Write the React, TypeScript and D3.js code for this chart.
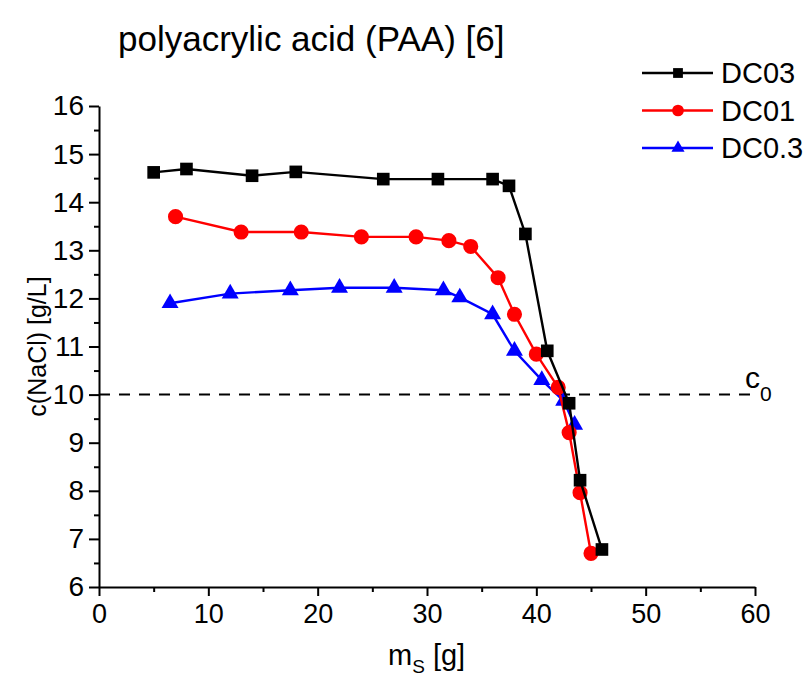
import { useEffect, useRef } from "react";
import * as d3 from "d3";

const dc03X = [5, 8, 14, 18, 26, 31, 36, 37.5, 39, 41, 43, 44, 46];
const dc03Y = [14.62, 14.69, 14.55, 14.63, 14.48, 14.48, 14.48, 14.34, 13.34, 10.91, 9.82, 8.22, 6.78];
const dc01X = [7, 13, 18.5, 24, 29, 32, 34, 36.5, 38, 40, 42, 43, 44, 45];
const dc01Y = [13.7, 13.38, 13.38, 13.28, 13.28, 13.2, 13.08, 12.43, 11.67, 10.84, 10.15, 9.21, 7.96, 6.7];
const dc03x3X = [6.5, 12, 17.5, 22, 27, 31.5, 33, 36, 38, 40.5, 42.5, 43.5];
const dc03x3Y = [11.9, 12.1, 12.17, 12.22, 12.22, 12.17, 12.02, 11.67, 10.91, 10.3, 9.87, 9.37];
const xTicks = [0, 10, 20, 30, 40, 50, 60];
const yTicks = [6, 7, 8, 9, 10, 11, 12, 13, 14, 15, 16];
const seriesNames = ["DC03", "DC01", "DC0.3"];
const c0 = 10;

const App = () => {
  const svgRef = useRef<SVGSVGElement | null>(null);

  useEffect(() => {
    drawChart();
  }, []);

  const drawChart = () => {
    const w = 811;
    const h = 681;
    const left = 99;
    const right = 755;
    const top = 106;
    const bottom = 587;
    const font = "'Liberation Sans', Arial, sans-serif";

    const svg = d3.select(svgRef.current);
    svg.selectAll("*").remove();
    svg.attr("width", w).attr("height", h).style("background", "white");

    const xScale = d3.scaleLinear().domain([0, 60]).range([left, right]);
    const yScale = d3.scaleLinear().domain([6, 16]).range([bottom, top]);

    // axes
    const xAxis = d3
      .axisBottom(xScale)
      .tickValues(xTicks)
      .tickSize(9)
      .tickSizeOuter(0)
      .tickPadding(5);
    const xMinor = d3
      .axisBottom(xScale)
      .tickValues(d3.range(5, 60, 10))
      .tickSize(5)
      .tickFormat(() => "");
    const yAxis = d3
      .axisLeft(yScale)
      .tickValues(yTicks)
      .tickSize(10)
      .tickSizeOuter(0)
      .tickPadding(5);
    const yMinor = d3
      .axisLeft(yScale)
      .tickValues(d3.range(6.5, 16, 1))
      .tickSize(5)
      .tickFormat(() => "");

    const gx = svg.append("g").attr("transform", `translate(0, ${bottom})`).call(xAxis);
    svg.append("g").attr("transform", `translate(0, ${bottom})`).call(xMinor).select(".domain").remove();
    const gy = svg.append("g").attr("transform", `translate(${left}, 0)`).call(yAxis);
    svg.append("g").attr("transform", `translate(${left}, 0)`).call(yMinor).select(".domain").remove();

    [gx, gy].forEach((g) => {
      g.selectAll("text").style("font-family", font).style("font-size", "27px").attr("fill", "black");
      g.select(".domain").attr("stroke-width", 2);
    });
    gy.selectAll("text").style("font-size", "28px");
    svg.selectAll(".tick line").attr("stroke-width", 2);
    gx.selectAll("text").attr("dy", "0.8em");

    // c0 dashed reference line
    svg
      .append("line")
      .attr("x1", xScale(0))
      .attr("x2", xScale(60))
      .attr("y1", yScale(c0))
      .attr("y2", yScale(c0))
      .attr("stroke", "black")
      .attr("stroke-width", 2)
      .attr("stroke-dasharray", "11,9");
    const c0Label = svg
      .append("text")
      .attr("x", 745)
      .attr("y", 388)
      .style("font-family", font)
      .style("font-size", "30px");
    c0Label.append("tspan").text("c");
    c0Label.append("tspan").attr("dy", 13).style("font-size", "21px").text("0");

    const line = d3
      .line<[number, number]>()
      .x((d) => xScale(d[0]))
      .y((d) => yScale(d[1]));

    const series = [
      { name: seriesNames[0], xs: dc03X, ys: dc03Y, color: "black", marker: d3.symbolSquare, size: 160 },
      { name: seriesNames[1], xs: dc01X, ys: dc01Y, color: "#ff0000", marker: d3.symbolCircle, size: 180 },
      { name: seriesNames[2], xs: dc03x3X, ys: dc03x3Y, color: "#0000ff", marker: d3.symbolTriangle, size: 125 },
    ];

    // draw last series first so black sits on top
    series
      .slice()
      .reverse()
      .forEach((s) => {
        const pts: [number, number][] = s.xs.map((x, i) => [x, s.ys[i]]);
        svg
          .append("path")
          .attr("d", line(pts))
          .attr("fill", "none")
          .attr("stroke", s.color)
          .attr("stroke-width", 2.4);
        svg
          .append("g")
          .selectAll("path")
          .data(pts)
          .join("path")
          .attr("d", d3.symbol().type(s.marker).size(s.size)())
          .attr("transform", (d) => `translate(${xScale(d[0])}, ${yScale(d[1])})`)
          .attr("fill", s.color);
      });

    // legend
    series.forEach((s, i) => {
      const ly = 73 + i * 37.5;
      svg
        .append("line")
        .attr("x1", 642)
        .attr("x2", 713)
        .attr("y1", ly)
        .attr("y2", ly)
        .attr("stroke", s.color)
        .attr("stroke-width", 2.4);
      svg
        .append("path")
        .attr("d", d3.symbol().type(s.marker).size(s.size * 0.6)())
        .attr("transform", `translate(678, ${ly})`)
        .attr("fill", s.color);
      svg
        .append("text")
        .attr("x", 721)
        .attr("y", ly + 10)
        .style("font-family", font)
        .style("font-size", "29px")
        .text(s.name);
    });

    // title and axis titles
    svg
      .append("text")
      .attr("x", 118)
      .attr("y", 51)
      .style("font-family", font)
      .style("font-size", "35px")
      .text("polyacrylic acid (PAA) [6]");

    svg
      .append("text")
      .attr("transform", `translate(46, ${(top + bottom) / 2}) rotate(-90)`)
      .attr("text-anchor", "middle")
      .style("font-family", font)
      .style("font-size", "25px")
      .text("c(NaCl) [g/L]");

    const xt = svg
      .append("text")
      .attr("x", 388)
      .attr("y", 665)
      .style("font-family", font)
      .style("font-size", "29px");
    xt.append("tspan").text("m");
    xt.append("tspan").attr("dy", 8).style("font-size", "19px").text("S");
    xt.append("tspan").attr("dy", -8).text(" [g]");
  };

  return (
    <div style={{ position: "absolute", left: 0, top: 0 }}>
      <svg ref={svgRef}></svg>
    </div>
  );
};

export default App;
